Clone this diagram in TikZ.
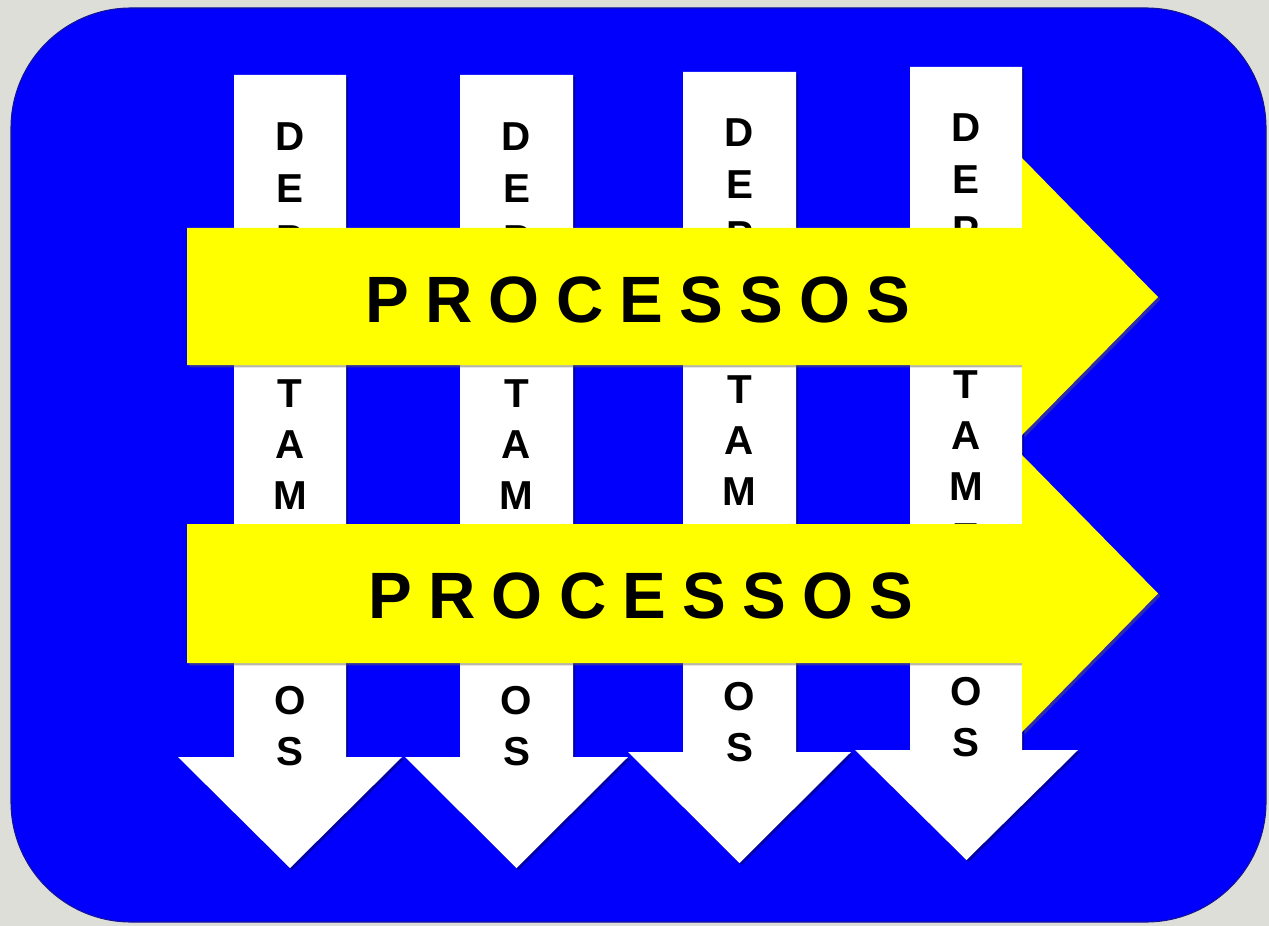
\documentclass[tikz,border=0pt]{standalone}
\usepackage{fontspec}
\setmainfont{Liberation Sans}
\usetikzlibrary{shadows}
\definecolor{bggray}{RGB}{222,222,216}
\definecolor{boxblue}{RGB}{0,0,252}
\definecolor{boxedge}{RGB}{20,20,150}
\definecolor{arrowyellow}{RGB}{255,255,0}
\tikzset{
  deptarrow/.style={fill=white, drop shadow={shadow xshift=1.2pt, shadow yshift=-1.2pt, opacity=.35, fill=black}},
  procarrow/.style={fill=arrowyellow, drop shadow={shadow xshift=1.4pt, shadow yshift=-1.4pt, opacity=.45, fill=black!70!yellow}},
  deptletter/.style={font=\bfseries\fontsize{23}{23}\selectfont, anchor=base, inner sep=0pt, text=black},
  proclabel/.style={font=\bfseries\fontsize{37.3}{37.3}\selectfont, anchor=base, inner sep=0pt, text=black},
}
\newcommand\lsp{\kern 9.25pt}
\begin{document}
\begin{tikzpicture}[x=0.02cm,y=-0.02cm]
\fill[bggray] (0,0) rectangle (1269,926);
\useasboundingbox (0,0) rectangle (1269,926);
\filldraw[fill=boxblue, draw=boxedge, line width=0.6pt, rounded corners=2.4cm] (11,8) rectangle (1266,922);
% white down arrows with DEPARTAMENTOS
\foreach \l/\r/\t/\h/\hl/\hr/\y/\d [count=\i] in {
  234/346/75/757/178/402/868/151,
  460/573/75/757/405/628/868/151,
  683/796/72/752/628/851/863/147,
  910/1022/67/750/855/1078/860/142}{
  \path[deptarrow] (\l,\t) -- (\r,\t) -- (\r,\h) -- (\hr,\h) -- ({(\hl+\hr)/2},\y) -- (\hl,\h) -- (\l,\h) -- cycle;
  \foreach \c [count=\k from 0] in {D,E,P,A,R,T,A,M,E,N,T,O,S}
    \node[deptletter] (dep\i-\k) at ({(\l+\r)/2},{\d+\k*51.2}) {\c};
}
% yellow right arrows with PROCESSOS
\foreach \t/\b/\ht/\hb/\m [count=\j] in {228/365/158/435/297, 524/663/455/732/593.5}{
  \path[procarrow] (187,\t) -- (1022,\t) -- (1022,\ht) -- (1158,\m) -- (1022,\hb) -- (1022,\b) -- (187,\b) -- cycle;
}
\node[proclabel] (proc1) at (638,322) {P\lsp R\lsp O\lsp C\lsp E\lsp S\lsp S\lsp O\lsp S};
\node[proclabel] (proc2) at (641,618) {P\lsp R\lsp O\lsp C\lsp E\lsp S\lsp S\lsp O\lsp S};
\end{tikzpicture}
\end{document}
